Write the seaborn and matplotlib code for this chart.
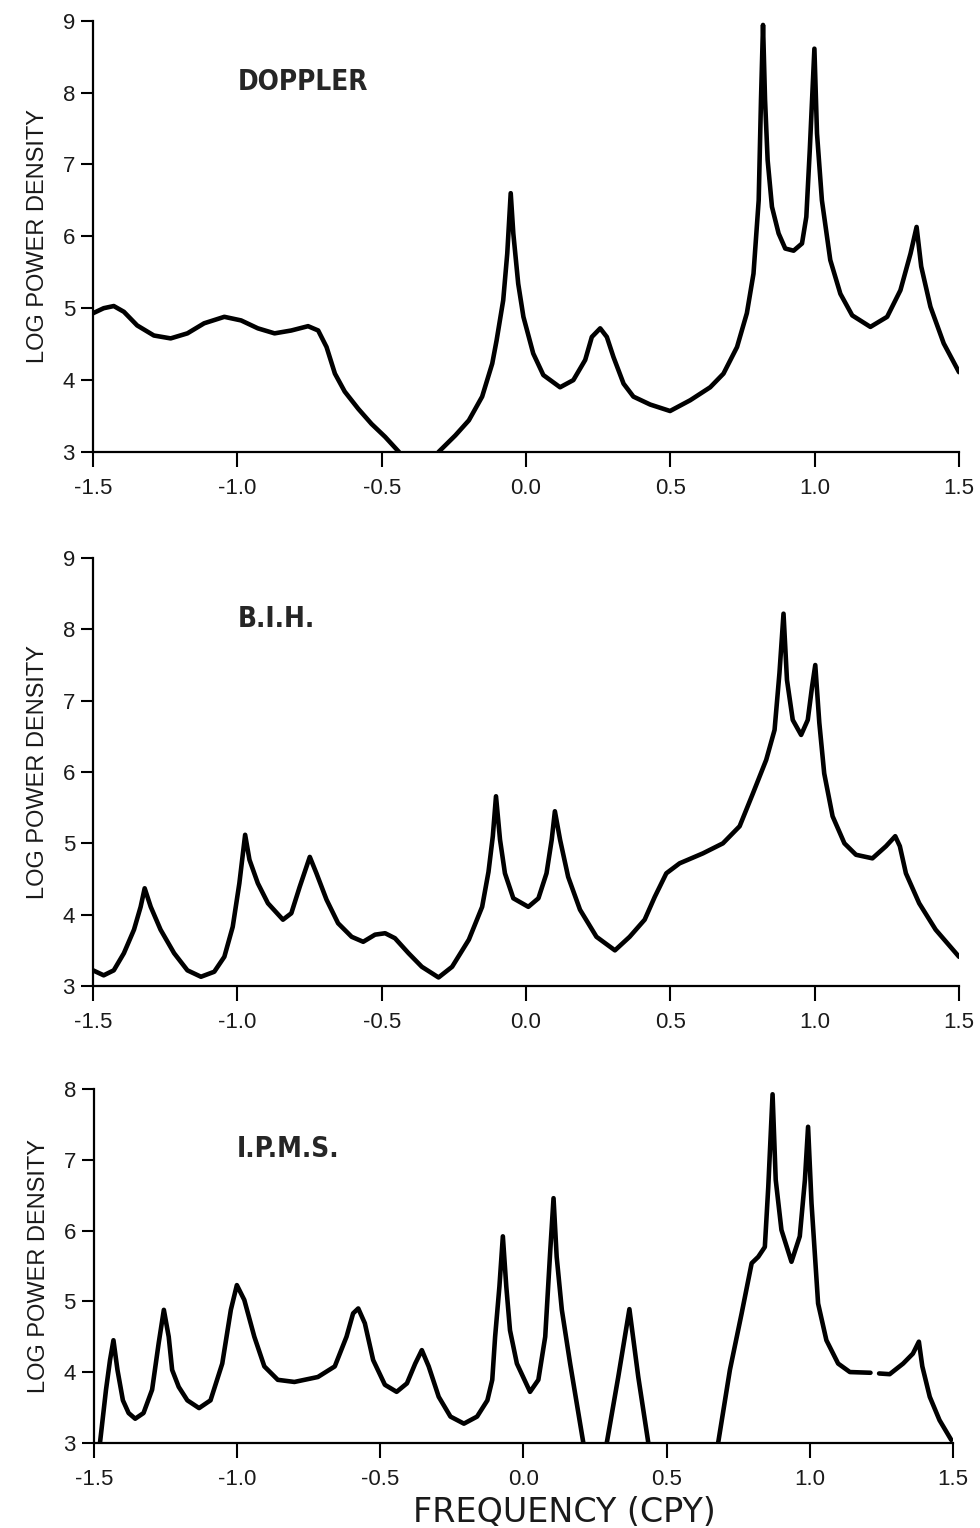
"""
Espectros de potência (log) para as séries DOPPLER, B.I.H. e I.P.M.S.
"""

import matplotlib
matplotlib.use("Agg")
import matplotlib.pyplot as plt
import seaborn as sns
import pandas as pd
import numpy as np

# --- dados (NaN = trecho interrompido / abaixo do eixo) ---
nan = np.nan

doppler_x = [-1.5, -1.463, -1.428, -1.393, -1.347, -1.289, -1.231, -1.173, -1.115, -1.045,
             -0.987, -0.929, -0.871, -0.813, -0.755, -0.72, -0.691, -0.662, -0.628, -0.581,
             -0.535, -0.488, -0.44, nan,
             -0.303, -0.245, -0.198, -0.152, -0.117, -0.102, -0.079, -0.065, -0.053, -0.044,
             -0.027, -0.009, 0.025, 0.06, 0.118, 0.164, 0.205, 0.228, 0.257, 0.28, 0.303,
             0.338, 0.372, 0.43, 0.499, 0.569, 0.638, 0.684, 0.731, 0.765, 0.788, 0.806,
             0.814, 0.821, 0.828, 0.837, 0.852, 0.875, 0.898, 0.927, 0.956, 0.971, 0.983,
             0.999, 1.008, 1.025, 1.054, 1.089, 1.13, 1.193, 1.251, 1.297, 1.332, 1.353,
             1.369, 1.401, 1.447, 1.5]
doppler_y = [4.93, 5.0, 5.03, 4.95, 4.76, 4.62, 4.58, 4.65, 4.79, 4.88,
             4.83, 4.72, 4.65, 4.69, 4.75, 4.69, 4.46, 4.09, 3.84, 3.6,
             3.39, 3.21, 3.0, nan,
             3.0, 3.23, 3.44, 3.77, 4.23, 4.55, 5.11, 5.76, 6.6, 6.04,
             5.34, 4.88, 4.37, 4.07, 3.9, 4.0, 4.28, 4.6, 4.72, 4.6, 4.32,
             3.95, 3.77, 3.66, 3.57, 3.72, 3.9, 4.09, 4.46, 4.93, 5.48, 6.5,
             7.9, 8.94, 7.9, 7.06, 6.41, 6.04, 5.83, 5.8, 5.9, 6.27, 7.2,
             8.61, 7.43, 6.5, 5.67, 5.2, 4.9, 4.74, 4.88, 5.25, 5.76, 6.13,
             5.58, 5.02, 4.51, 4.11]

bih_x = [-1.5, -1.463, -1.428, -1.393, -1.358, -1.335, -1.321, -1.3, -1.266, -1.219, -1.173,
         -1.126, -1.08, -1.045, -1.016, -0.993, -0.973, -0.958, -0.929, -0.894, -0.842,
         -0.813, -0.784, -0.749, -0.726, -0.691, -0.651, -0.604, -0.564, -0.523, -0.488,
         -0.454, -0.407, -0.361, -0.303, -0.256, -0.198, -0.152, -0.13, -0.115, -0.104,
         -0.09, -0.073, -0.044, 0.008, 0.043, 0.071, 0.089, 0.1, 0.118, 0.146, 0.187,
         0.244, 0.308, 0.359, 0.411, 0.446, 0.486, 0.532, 0.613, 0.682, 0.74, 0.786,
         0.832, 0.861, 0.878, 0.892, 0.904, 0.924, 0.953, 0.976, 0.991, 1.002, 1.016,
         1.033, 1.062, 1.103, 1.143, 1.2, 1.247, 1.279, 1.295, 1.316, 1.362, 1.419, 1.5]
bih_y = [3.22, 3.15, 3.22, 3.46, 3.79, 4.11, 4.37, 4.11, 3.79, 3.46, 3.22,
         3.13, 3.2, 3.41, 3.83, 4.44, 5.12, 4.77, 4.44, 4.16, 3.93,
         4.02, 4.39, 4.81, 4.58, 4.21, 3.88, 3.69, 3.62, 3.72, 3.74,
         3.67, 3.46, 3.27, 3.12, 3.27, 3.65, 4.11, 4.6, 5.1, 5.66,
         5.05, 4.58, 4.23, 4.11, 4.23, 4.58, 5.05, 5.45, 5.05, 4.53, 4.07,
         3.69, 3.5, 3.69, 3.93, 4.25, 4.58, 4.72, 4.86, 5.0, 5.24, 5.7,
         6.17, 6.59, 7.39, 8.22, 7.29, 6.73, 6.52, 6.73, 7.2, 7.5, 6.69,
         5.98, 5.38, 5.0, 4.84, 4.79, 4.96, 5.1, 4.96, 4.58, 4.16, 3.79, 3.41]

ipms_x = [-1.479, -1.458, -1.444, -1.432, -1.418, -1.399, -1.379, -1.356, -1.327, -1.297,
          -1.274, -1.256, -1.239, -1.227, -1.204, -1.174, -1.133, -1.093, -1.052, -1.022,
          -1.001, -0.975, -0.94, -0.905, -0.858, -0.8, -0.718, -0.659, -0.618, -0.595,
          -0.577, -0.554, -0.525, -0.484, -0.443, -0.407, -0.378, -0.355, -0.331, -0.296,
          -0.255, -0.208, -0.162, -0.126, -0.109, -0.099, -0.084, -0.072, -0.06, -0.047,
          -0.023, 0.023, 0.052, 0.076, 0.093, 0.105, 0.116, 0.134, 0.163, 0.209, nan,
          0.291, 0.331, 0.37, 0.401, 0.436, nan,
          0.68, 0.721, 0.762, 0.797, 0.82, 0.843, 0.855, 0.87, 0.881, 0.901, 0.936, 0.965,
          0.983, 0.994, 1.006, 1.029, 1.058, 1.099, 1.14, 1.212, nan,
          1.242, 1.279, 1.326, 1.36, 1.381, 1.393, 1.419, 1.453, 1.494]
ipms_y = [3.0, 3.75, 4.17, 4.45, 4.03, 3.6, 3.42, 3.34, 3.42, 3.75,
          4.41, 4.88, 4.5, 4.03, 3.79, 3.6, 3.49, 3.6, 4.12, 4.88,
          5.23, 5.02, 4.5, 4.08, 3.89, 3.86, 3.93, 4.08, 4.5, 4.83,
          4.9, 4.69, 4.17, 3.82, 3.72, 3.84, 4.12, 4.31, 4.08, 3.65,
          3.37, 3.27, 3.37, 3.6, 3.89, 4.5, 5.21, 5.92, 5.21, 4.59,
          4.12, 3.72, 3.89, 4.5, 5.68, 6.46, 5.63, 4.88, 4.12, 3.0, nan,
          3.0, 3.93, 4.89, 3.93, 3.0, nan,
          3.0, 4.03, 4.83, 5.54, 5.63, 5.77, 6.62, 7.93, 6.72, 6.01, 5.56, 5.92,
          6.72, 7.47, 6.39, 4.97, 4.45, 4.12, 4.0, 3.99, nan,
          3.98, 3.97, 4.12, 4.26, 4.43, 4.08, 3.65, 3.32, 3.04]

series_names = ["DOPPLER", "B.I.H.", "I.P.M.S."]
y_tops = [9, 9, 8]
x_ticks = [-1.5, -1.0, -0.5, 0.0, 0.5, 1.0, 1.5]
x_tick_labels = ["-1.5", "-1.0", "-0.5", "0.0", "0.5", "1.0", "1.5"]


def to_frame(x, y):
    """Monta o DataFrame, separando os trechos interrompidos por NaN."""
    df = pd.DataFrame({"freq": x, "logp": y})
    df["trecho"] = df["logp"].isna().cumsum()
    return df.dropna()


sns.set_style("ticks")
plt.rcParams["font.family"] = ["Liberation Sans", "DejaVu Sans"]

fig = plt.figure(figsize=(9.8, 15.28), dpi=100)
axes_pos = [
    [0.0949, 0.7042, 0.8837, 0.2823],
    [0.0949, 0.3547, 0.8837, 0.2801],
    [0.0959, 0.0558, 0.8765, 0.2313],
]
dados = [(doppler_x, doppler_y), (bih_x, bih_y), (ipms_x, ipms_y)]

for i, ((x, y), nome, topo) in enumerate(zip(dados, series_names, y_tops)):
    ax = fig.add_axes(axes_pos[i])
    df = to_frame(x, y)
    sns.lineplot(data=df, x="freq", y="logp", units="trecho", estimator=None,
                 sort=False, color="black", linewidth=3.3, ax=ax,
                 solid_joinstyle="round", solid_capstyle="round")
    ax.set_xlim(-1.5, 1.5)
    ax.set_ylim(3, topo)
    ax.set_xticks(x_ticks)
    ax.set_xticklabels(x_tick_labels)
    ax.set_yticks(range(3, topo + 1))
    ax.tick_params(axis="both", direction="out", labelsize=16, width=1.5,
                   color="black", labelcolor="#1a1a1a")
    ax.tick_params(axis="x", length=11, pad=8)
    ax.tick_params(axis="y", length=9, pad=4)
    sns.despine(ax=ax)
    for s in ["left", "bottom"]:
        ax.spines[s].set_linewidth(1.6)
        ax.spines[s].set_color("black")
    ax.set_ylabel("LOG POWER DENSITY", fontsize=17, color="#1a1a1a", labelpad=10)
    ax.set_xlabel("")
    ax.text(-1.0, topo - 0.85, nome, fontsize=20, fontweight="bold",
            fontstretch="condensed", family=["DejaVu Sans"], va="center", ha="left")

    if i == 2:
        ax.set_xlabel("FREQUENCY (CPY)", fontsize=24, color="#1a1a1a",
                      family=["DejaVu Sans"], va="top")
        ax.xaxis.set_label_coords(0.548, -0.15)

fig.savefig("out.png", dpi=100)
